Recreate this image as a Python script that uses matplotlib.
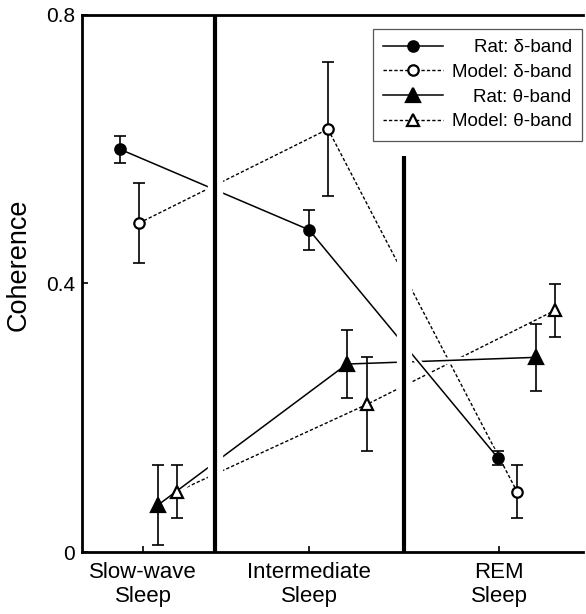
import matplotlib
matplotlib.use("Agg")
import matplotlib.pyplot as plt
from matplotlib.lines import Line2D

plt.rcParams['font.family'] = ['Liberation Sans', 'DejaVu Sans']

# ---- data ----
categories = ["Slow-wave\nSleep", "Intermediate\nSleep", "REM\nSleep"]
cat_pos = [1.43, 3.09, 4.99]
divider_x = [2.15, 4.04]
divider_top = [0.8, 0.59]

rat_delta_x = [1.20, 3.09, 4.98]
rat_delta = [0.60, 0.48, 0.14]
rat_delta_err = [0.02, 0.03, 0.01]

model_delta_x = [1.39, 3.28, 5.17]
model_delta = [0.49, 0.63, 0.09]
model_delta_err = [0.06, 0.10, 0.04]

rat_theta_x = [1.58, 3.47, 5.36]
rat_theta = [0.07, 0.28, 0.29]
rat_theta_err = [0.06, 0.05, 0.05]

model_theta_x = [1.77, 3.67, 5.55]
model_theta = [0.09, 0.22, 0.36]
model_theta_err = [0.04, 0.07, 0.04]

labels = ["Rat: δ-band", "Model: δ-band", "Rat: θ-band", "Model: θ-band"]
yticks = [0, 0.4, 0.8]
ytick_labels = ["0", "0.4", "0.8"]

# ---- figure ----
fig = plt.figure(figsize=(5.86, 6.14), dpi=100)
ax = fig.add_axes([82/586, 1-552/614, 501/586, 537/614])
ax.set_xlim(0.82, 5.83)
ax.set_ylim(0, 0.8)

dash = (2.4, 1.5)
series = [
    (model_theta_x, model_theta, model_theta_err, '^', 'white', 'dashed', 8.5),
    (model_delta_x, model_delta, model_delta_err, 'o', 'white', 'dashed', 7.5),
    (rat_theta_x, rat_theta, rat_theta_err, '^', 'black', 'solid', 10),
    (rat_delta_x, rat_delta, rat_delta_err, 'o', 'black', 'solid', 7.5),
]

z = 1.0
for xs, ys, es, mk, fc, ls, ms in series:
    # white halo under each connecting line to produce gaps at crossings
    ax.plot(xs, ys, color='white', lw=4.5, solid_capstyle='butt', zorder=z)
    if ls == 'dashed':
        ax.plot(xs, ys, color='black', lw=1.0, linestyle=(0, dash), zorder=z + 0.05)
    else:
        ax.plot(xs, ys, color='black', lw=1.1, zorder=z + 0.05)
    z += 0.2
    ax.errorbar(xs, ys, yerr=es, fmt='none', ecolor='black', elinewidth=1.2,
                capsize=4, capthick=1.2, zorder=3)
    ax.plot(xs, ys, linestyle='none', marker=mk, markersize=ms,
            markerfacecolor=fc, markeredgecolor='black', markeredgewidth=1.6,
            zorder=3.2)

# dividers with white halo
for dx, top in zip(divider_x, divider_top):
    ax.plot([dx, dx], [0, top], color='white', lw=11, solid_capstyle='butt', zorder=2.0)
    ax.plot([dx, dx], [0, top], color='black', lw=3, solid_capstyle='butt', zorder=2.1)

# axes styling
for s in ['left', 'bottom', 'top']:
    ax.spines[s].set_linewidth(2)
    ax.spines[s].set_zorder(2.5)
ax.spines['right'].set_visible(False)

ax.set_xticks(cat_pos)
ax.set_xticklabels(categories, fontsize=16, linespacing=1.2)
ax.set_yticks(yticks)
ax.set_yticklabels(ytick_labels, fontsize=15)
ax.tick_params(axis='both', direction='in', length=4, width=1.2)
ax.tick_params(axis='x', pad=7, top=False)
ax.tick_params(axis='y', pad=5, right=False)
ax.set_ylabel("Coherence", fontsize=19.5)
ax.yaxis.set_label_coords(-0.1, 0.534)

# legend
handles = [
    Line2D([], [], color='black', lw=1.1, marker='o', markersize=7.5,
           markerfacecolor='black', markeredgecolor='black', markeredgewidth=1.6),
    Line2D([], [], color='black', lw=1.0, linestyle=(0, dash), marker='o', markersize=7.5,
           markerfacecolor='white', markeredgecolor='black', markeredgewidth=1.6),
    Line2D([], [], color='black', lw=1.1, marker='^', markersize=10,
           markerfacecolor='black', markeredgecolor='black', markeredgewidth=1.6),
    Line2D([], [], color='black', lw=1.0, linestyle=(0, dash), marker='^', markersize=8.5,
           markerfacecolor='white', markeredgecolor='black', markeredgewidth=1.6),
]
leg = ax.legend(handles, labels, loc='upper right', bbox_to_anchor=(0.998, 0.974),
                borderaxespad=0, fontsize=13.5, handlelength=3.2, handletextpad=0.45,
                labelspacing=0.4, borderpad=0.55, fancybox=False, framealpha=1,
                edgecolor='#555555')
leg.get_frame().set_linewidth(0.9)
leg.set_zorder(5)

# right-align legend labels within their column
fig.canvas.draw()
renderer = fig.canvas.get_renderer()
widths = [t.get_window_extent(renderer).width for t in leg.get_texts()]
maxw = max(widths)
for t, w in zip(leg.get_texts(), widths):
    t.set_position((maxw - w, 0))

fig.savefig("out.png", dpi=100)
